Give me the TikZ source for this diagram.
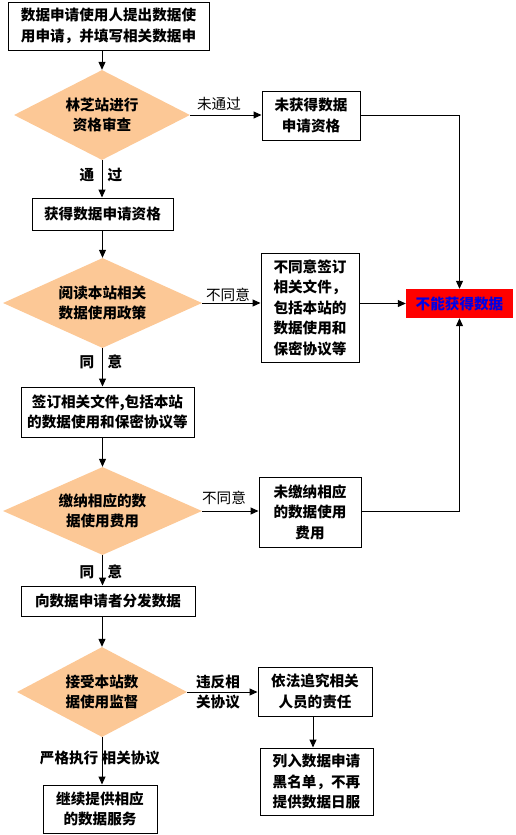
\documentclass[tikz,border=0pt]{standalone}
\usepackage{fontspec}
\setmainfont{Noto Sans CJK SC}
\usetikzlibrary{shapes.geometric,arrows.meta}
\definecolor{dfill}{RGB}{252,200,150}
\definecolor{tblue}{RGB}{0,0,230}
\begin{document}
\begin{tikzpicture}[x=1pt,y=-1pt,
  every node/.style={font=\fontsize{14.6}{20.5}\selectfont\bfseries, inner sep=0pt, align=center},
  pbox/.style={draw, line width=1pt, minimum width=#1},
  dia/.style={diamond, fill=dfill, aspect=2},
  lbl/.style={font=\fontsize{14.6}{20.5}\selectfont},
  conn/.style={line width=1pt},
  arr/.style={line width=1pt, -{Triangle[length=8pt,width=7pt]}}
]
\useasboundingbox (0,0) rectangle (515,835);
% main column
\node[pbox=201pt, minimum height=48pt] (top) at (108.5,26) {数据申请使用人提出数据使\\用申请，并填写相关数据申};
\node[dia, minimum width=176pt, minimum height=90pt] (d1) at (102,115) {林芝站进行\\资格审查};
\node[pbox=141pt, minimum height=32pt] (b2) at (102.5,214) {获得数据申请资格};
\node[dia, minimum width=199pt, minimum height=90pt] (d2) at (102.5,303) {阅读本站相关\\数据使用政策};
\node[pbox=173pt, minimum height=50pt] (b3) at (107.5,412) {签订相关文件,包括本站\\的数据使用和保密协议等};
\node[dia, minimum width=199pt, minimum height=88pt] (d3) at (102.5,511) {缴纳相应的数\\据使用费用};
\node[pbox=174pt, minimum height=30pt] (b4) at (108,601) {向数据申请者分发数据};
\node[dia, minimum width=170pt, minimum height=90pt] (d4) at (102,692) {接受本站数\\据使用监督};
\node[pbox=114pt, minimum height=48pt] (b5) at (100,809) {继续提供相应\\的数据服务};
% right column
\node[pbox=98pt, minimum height=49pt] (r1) at (311,115.5) {未获得数据\\申请资格};
\node[pbox=98pt, minimum height=109pt] (r2) at (310,307.5) {不同意签订\\相关文件，\\包括本站的\\数据使用和\\保密协议等};
\node[pbox=102pt, minimum height=70pt] (r3) at (310,512) {未缴纳相应\\的数据使用\\费用};
\node[pbox=114pt, minimum height=49pt] (b6) at (315,691.5) {依法追究相关\\人员的责任};
\node[pbox=113pt, minimum height=67pt] (b7) at (316.5,781.5) {列入数据申请\\黑名单，不再\\提供数据日服};
\node[fill=red, text=tblue, minimum width=107pt, minimum height=29pt] (red) at (459.5,303.5) {不能获得数据};
% labels
\node[lbl] (l1) at (219,104) {未通过};
\node (l2a) at (87,175) {通};
\node (l2b) at (115,175) {过};
\node[lbl] (l3) at (228,295) {不同意};
\node (l4a) at (87,362) {同};
\node (l4b) at (115,362) {意};
\node[lbl] (l5) at (224,498) {不同意};
\node (l6a) at (87,572) {同};
\node (l6b) at (115,572) {意};
\node (l7) at (218,692) {违反相\\关协议};
\node (l8) at (100,758) {严格执行 相关协议};
% connectors main column
\draw[arr] (top.south -| d1.north) -- (d1.north);
\draw[arr] (d1.south) -- (d1.south |- b2.north);
\draw[arr] (b2.south -| d2.north) -- (d2.north);
\draw[arr] (d2.south) -- (d2.south |- b3.north);
\draw[arr] (b3.south -| d3.north) -- (d3.north);
\draw[arr] (d3.south) -- (d3.south |- b4.north);
\draw[arr] (b4.south -| d4.north) -- (d4.north);
\draw[arr] (d4.south) -- (d4.south |- b5.north);
% connectors right
\draw[arr] (d1.east) -- (d1.east -| r1.west);
\draw[arr] (r1.east |- d1.east) -- (r1.east |- d1.east -| red.north) -- (red.north);
\draw[arr] (d2.east) -- (d2.east -| r2.west);
\draw[arr] (r2.east |- red.west) -- (red.west);
\draw[arr] (d3.east) -- (d3.east -| r3.west);
\draw[arr] (r3.east |- d3.east) -- (d3.east -| red.south) -- (red.south);
\draw[arr] (d4.east) -- (d4.east -| b6.west);
\draw[arr] ([xshift=-2pt]b6.south) -- ([xshift=-2pt]b6.south |- b7.north);
\end{tikzpicture}
\end{document}
